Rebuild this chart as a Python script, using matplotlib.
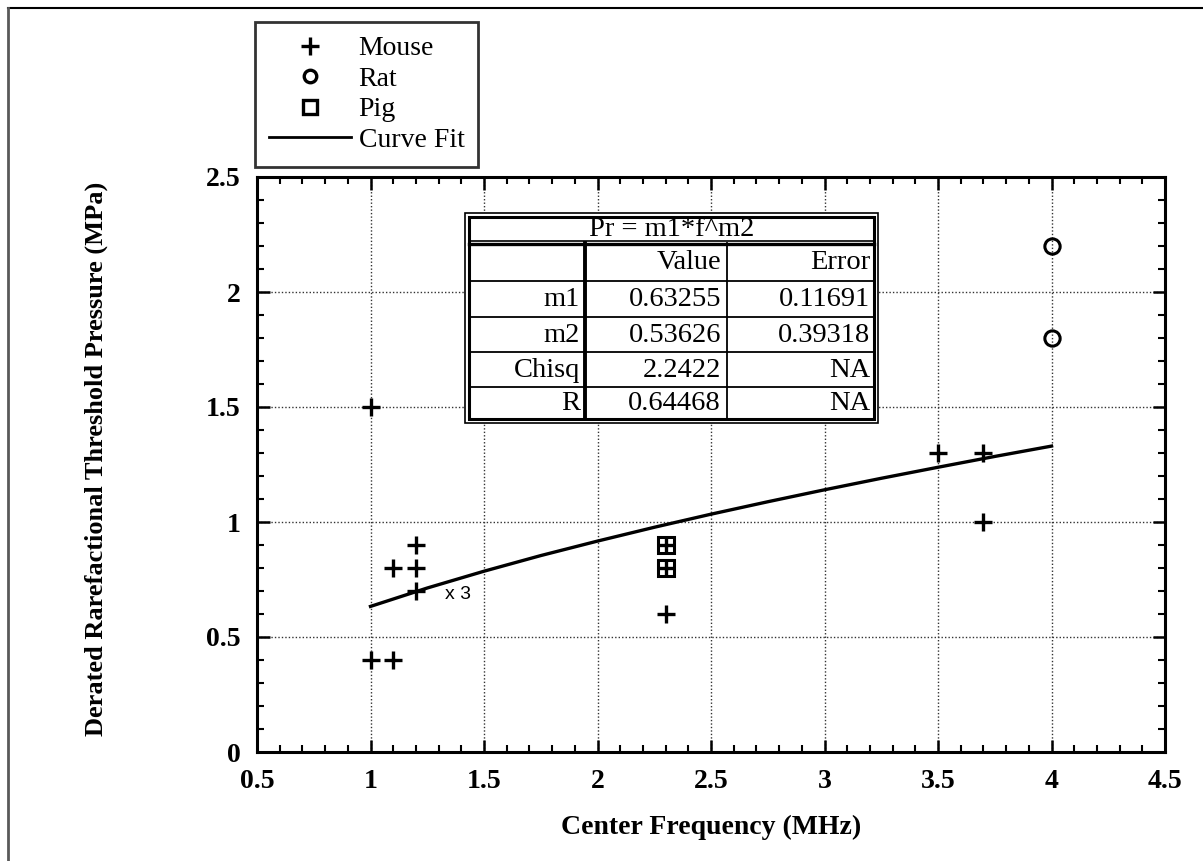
import matplotlib
matplotlib.use("Agg")
import matplotlib.pyplot as plt
from matplotlib.lines import Line2D
from matplotlib.patches import Rectangle
from matplotlib.ticker import MultipleLocator

plt.rcParams['font.family'] = ['Liberation Serif', 'DejaVu Serif']

# ---------------- data ----------------
mouse_f = [1.0, 1.0, 1.1, 1.1, 1.2, 1.2, 1.2, 2.3, 2.3, 2.3, 3.5, 3.7, 3.7]
mouse_p = [1.5, 0.4, 0.4, 0.8, 0.8, 0.9, 0.7, 0.9, 0.8, 0.6, 1.3, 1.3, 1.0]
rat_f = [4.0, 4.0]
rat_p = [2.2, 1.8]
pig_f = [2.3, 2.3]
pig_p = [0.9, 0.8]
fit_f = [1.0, 1.25, 1.5, 1.75, 2.0, 2.25, 2.5, 2.75, 3.0, 3.25, 3.5, 3.75, 4.0]
fit_p = [0.633, 0.713, 0.786, 0.854, 0.917, 0.977, 1.034, 1.088, 1.140, 1.190, 1.238, 1.285, 1.330]

table_title = "Pr = m1*f^m2"
table_header = ["", "Value", "Error"]
table_rows = [["m1", "0.63255", "0.11691"],
              ["m2", "0.53626", "0.39318"],
              ["Chisq", "2.2422", "NA"],
              ["R", "0.64468", "NA"]]

x_ticks = [0.5, 1, 1.5, 2, 2.5, 3, 3.5, 4, 4.5]
x_ticklabels = ["0.5", "1", "1.5", "2", "2.5", "3", "3.5", "4", "4.5"]
y_ticks = [0, 0.5, 1, 1.5, 2, 2.5]
y_ticklabels = ["0", "0.5", "1", "1.5", "2", "2.5"]

# ---------------- figure ----------------
W, H = 1203, 861
fig = plt.figure(figsize=(W / 100, H / 100), dpi=100)

def fx(px):
    return px / W

def fy(py):
    return 1 - py / H

L, R, T, B = 257, 1165, 177, 752
ax = fig.add_axes([fx(L), fy(B), fx(R) - fx(L), fy(T) - fy(B)])

ax.set_xlim(0.5, 4.5)
ax.set_ylim(0, 2.5)
ax.set_xticks(x_ticks)
ax.set_xticklabels(x_ticklabels)
ax.set_yticks(y_ticks)
ax.set_yticklabels(y_ticklabels)
ax.xaxis.set_minor_locator(MultipleLocator(0.1))
ax.yaxis.set_minor_locator(MultipleLocator(0.1))
ax.tick_params(which='both', direction='in', top=True, right=True, color='black')
ax.tick_params(which='major', length=9, width=1.8, pad=12, labelsize=20)
ax.tick_params(which='minor', length=5, width=1.5)
for lab in ax.get_xticklabels() + ax.get_yticklabels():
    lab.set_fontweight('bold')
for s in ax.spines.values():
    s.set_linewidth(2.2)

ax.grid(True, which='major', linestyle=(0, (1, 1.5)), linewidth=1.0, color='0.2')

ax.plot(fit_f, fit_p, color='black', linewidth=2.4, zorder=3)
ax.plot(mouse_f, mouse_p, linestyle='none', marker='+', markersize=13,
        markeredgewidth=2.4, color='black', zorder=4)
ax.plot(rat_f, rat_p, linestyle='none', marker='o', markersize=11,
        markeredgewidth=2.2, markerfacecolor='none', markeredgecolor='black', zorder=4)
ax.plot(pig_f, pig_p, linestyle='none', marker='s', markersize=12,
        markeredgewidth=2.2, markerfacecolor='none', markeredgecolor='black', zorder=4)

ax.text(1.33, 0.683, "x 3", family=['Liberation Sans', 'DejaVu Sans'], fontsize=14,
        ha='left', va='center', zorder=5)

ax.set_xlabel("Center Frequency (MHz)", fontsize=20, fontweight='bold')
ax.set_ylabel("Derated Rarefactional Threshold Pressure (MPa)", fontsize=19, fontweight='bold')
ax.xaxis.set_label_coords(0.5, (B - 815) / (B - T))
ax.yaxis.set_label_coords((108 - L) / (R - L), 0.51)

# ---------------- legend ----------------
handles = [
    Line2D([], [], linestyle='none', marker='+', markersize=13, markeredgewidth=2.4, color='black'),
    Line2D([], [], linestyle='none', marker='o', markersize=9, markeredgewidth=2.4,
           markerfacecolor='none', markeredgecolor='black'),
    Line2D([], [], linestyle='none', marker='s', markersize=10, markeredgewidth=2.4,
           markerfacecolor='none', markeredgecolor='black'),
    Line2D([], [], color='black', linewidth=2.0),
]
leg = fig.legend(handles, ["Mouse", "Rat", "Pig", "Curve Fit"],
                 loc='upper left', bbox_to_anchor=(fx(255), fy(22)),
                 bbox_transform=fig.transFigure, borderaxespad=0,
                 fontsize=20, frameon=True, fancybox=False,
                 handlelength=2.95, handletextpad=0.28, labelspacing=0.18,
                 borderpad=0.5)
leg.get_frame().set_edgecolor('black')
leg.get_frame().set_linewidth(2.0)

# ---------------- fit table ----------------
tL, tR, tT, tB = 465, 878, 213, 423
row_edges = [243, 281, 317, 352, 387]
col_edges = [585, 727]
tr = fig.transFigure

def hline(py, x0, x1, lw):
    fig.add_artist(Line2D([fx(x0), fx(x1)], [fy(py), fy(py)], transform=tr,
                          color='black', linewidth=lw, zorder=10))

def vline(px, y0, y1, lw):
    fig.add_artist(Line2D([fx(px), fx(px)], [fy(y0), fy(y1)], transform=tr,
                          color='black', linewidth=lw, zorder=10))

fig.add_artist(Rectangle((fx(tL), fy(tB)), fx(tR) - fx(tL), fy(tT) - fy(tB),
                         transform=tr, facecolor='white', edgecolor='black',
                         linewidth=1.2, zorder=9))
fig.add_artist(Rectangle((fx(tL + 4), fy(tB - 4)), fx(tR - 4) - fx(tL + 4),
                         fy(tT + 4) - fy(tB - 4), transform=tr, facecolor='none',
                         edgecolor='black', linewidth=2.2, zorder=10))
hline(row_edges[0] - 2, tL + 4, tR - 4, 1.2)
hline(row_edges[0] + 1, tL + 4, tR - 4, 2.4)
for py in row_edges[1:]:
    hline(py, tL + 4, tR - 4, 1.3)
vline(col_edges[0], row_edges[0], tB - 4, 2.8)
vline(col_edges[1], row_edges[0], tB - 4, 1.3)

fig.text(fx((tL + tR) / 2), fy((tT + row_edges[0]) / 2 + 2), table_title,
         fontsize=20.5, ha='center', va='center', zorder=11)
cell_tops = [row_edges[0]] + row_edges[1:]
cell_bots = row_edges[1:] + [tB - 4]
right_x = [col_edges[0] - 5, col_edges[1] - 6, tR - 8]
all_rows = [table_header] + table_rows
for r, row in enumerate(all_rows):
    yc = (cell_tops[r] + cell_bots[r]) / 2 + 1
    for c, txt in enumerate(row):
        if txt:
            fig.text(fx(right_x[c]), fy(yc), txt, fontsize=20.5, ha='right',
                     va='center', zorder=11)

# ---------------- page border (top & left) ----------------
fig.add_artist(Line2D([fx(8), 1], [fy(8), fy(8)], transform=tr, color='black', linewidth=1.5))
fig.add_artist(Line2D([fx(8), fx(8)], [fy(8), 0], transform=tr, color='0.35', linewidth=2.0))

fig.savefig("out.png", dpi=100)
